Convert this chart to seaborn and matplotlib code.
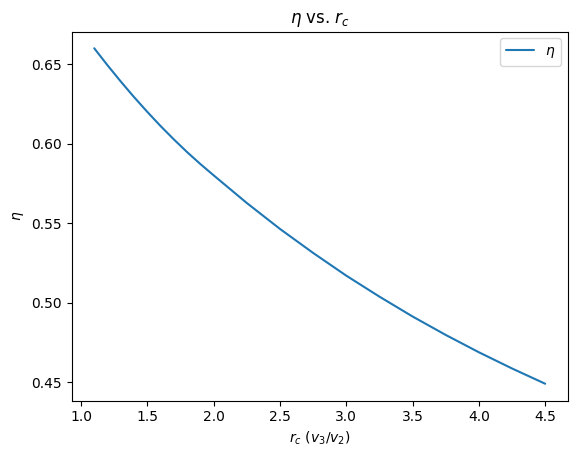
import matplotlib
matplotlib.use("Agg")
import matplotlib.pyplot as plt
import seaborn as sns
import pandas as pd

# cutoff ratio r_c and thermal efficiency eta
r_c = [1.1, 1.2, 1.3, 1.4, 1.5, 1.6, 1.7, 1.8, 1.9, 2.0, 2.25, 2.5, 2.75,
       3.0, 3.25, 3.5, 3.75, 4.0, 4.25, 4.5]
eta = [0.660, 0.6493, 0.6391, 0.6293, 0.620, 0.6111, 0.6027, 0.5947, 0.5872,
       0.5801, 0.5627, 0.5464, 0.5313, 0.5170, 0.5038, 0.4913, 0.4797, 0.4688,
       0.4586, 0.4490]

df = pd.DataFrame({"r_c": r_c, "eta": eta})

sns.set_style("ticks")
plt.rcParams["font.family"] = ["DejaVu Sans"]
plt.rcParams.update({"text.color": "black", "axes.labelcolor": "black",
                     "xtick.color": "black", "ytick.color": "black"})

W, H = 577, 457
fig = plt.figure(figsize=(W / 100, H / 100), dpi=100)
ax = fig.add_axes([71.7 / W, 1 - 400.5 / H, 496 / W, 369 / H])

sns.lineplot(data=df, x="r_c", y="eta", ax=ax, color="#1f77b4", label=r"$\eta$")

ax.set_title(r"$\eta$ vs. $r_c$", fontsize=12)
ax.set_xlabel(r"$r_c$ ($v_3/v_2$)", fontsize=10)
ax.set_ylabel(r"$\eta$", fontsize=10)
ax.tick_params(labelsize=10, colors="black")
for s in ax.spines.values():
    s.set_visible(True)
    s.set_color("black")
    s.set_linewidth(0.8)
ax.legend(loc="upper right", fontsize=10)

fig.savefig("out.png", dpi=100)
